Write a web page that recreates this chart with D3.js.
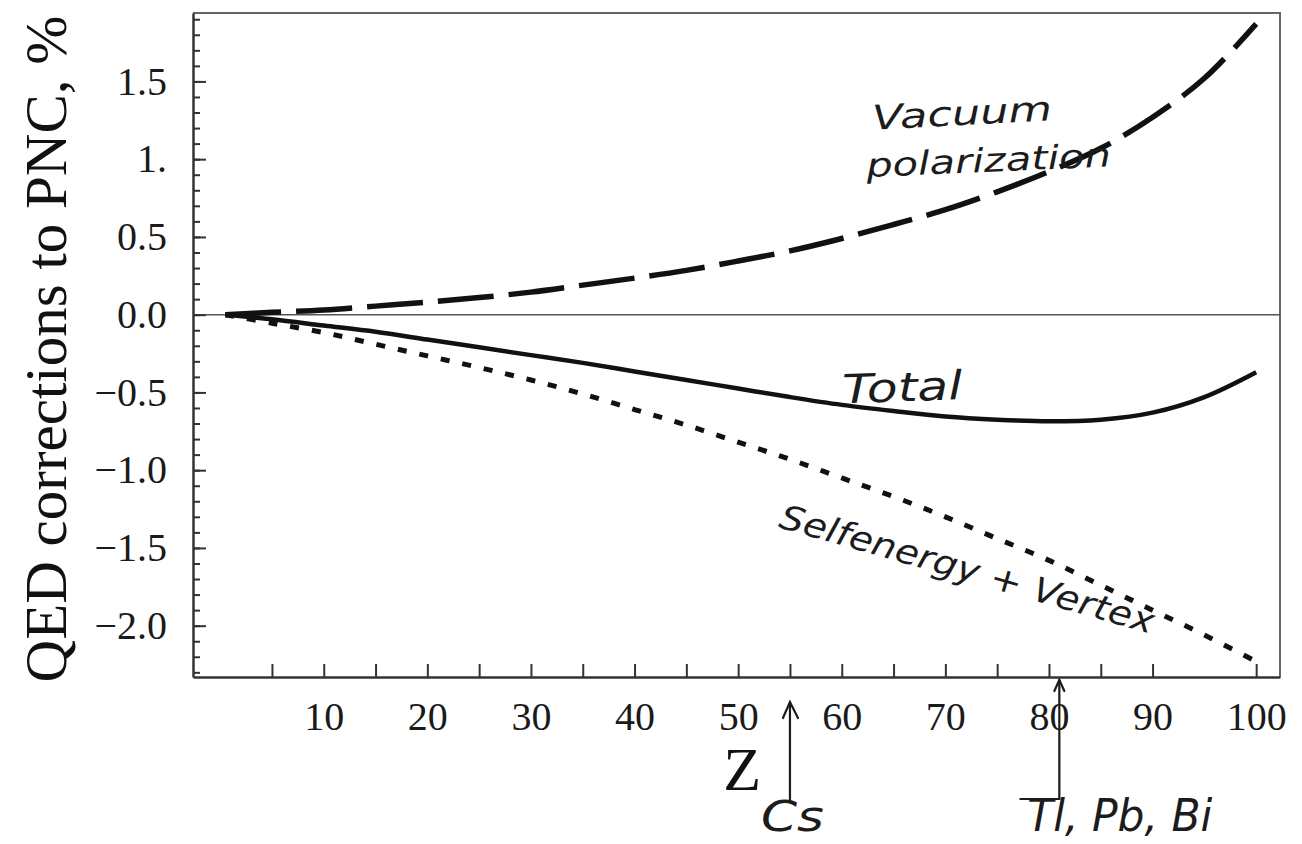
<!DOCTYPE html>
<html>
<head>
<meta charset="utf-8">
<script src="https://cdn.jsdelivr.net/npm/d3@7"></script>
<style>
  body { margin: 0; background: #fff; }
  .axis text { font-family: "Liberation Serif", "Times New Roman", serif; font-size: 40px; fill: #1a1a1a; }
  .axis line { stroke: #333; stroke-width: 2; }
  .axis path { stroke: #333; stroke-width: 2.5; }
  .hand { font-family: "DejaVu Sans", sans-serif; font-style: italic; fill: #1c1c1c; }
</style>
</head>
<body>
<div id="chart"></div>
<script>
// chart values
const zValues    = [0.5, 5, 10, 15, 20, 25, 30, 35, 40, 45, 50, 55, 60, 65, 70, 75, 80, 85, 90, 95, 100];
const vacuumPol  = [0, 0.015, 0.03, 0.055, 0.08, 0.11, 0.145, 0.19, 0.235, 0.285, 0.345, 0.41, 0.49, 0.58, 0.675, 0.79, 0.92, 1.07, 1.27, 1.52, 1.87];
const selfVertex = [0, -0.055, -0.115, -0.19, -0.265, -0.34, -0.42, -0.51, -0.61, -0.71, -0.82, -0.93, -1.05, -1.17, -1.30, -1.44, -1.58, -1.74, -1.90, -2.06, -2.23];
const totalQED   = [0, -0.03, -0.07, -0.11, -0.16, -0.21, -0.26, -0.31, -0.365, -0.42, -0.475, -0.53, -0.58, -0.62, -0.655, -0.675, -0.685, -0.675, -0.63, -0.53, -0.37];

const xTicks = [5, 10, 15, 20, 25, 30, 35, 40, 45, 50, 55, 60, 65, 70, 75, 80, 85, 90, 100];
const yMajor = [-2.0, -1.5, -1.0, -0.5, 0.0, 0.5, 1.0, 1.5];
const yTickLabels = ["\u22122.0", "\u22121.5", "\u22121.0", "\u22120.5", "0.0", "0.5", "1.", "1.5"];
const yMinor = d3.range(-23, 20).map(d => d / 10);

const width = 1302;
const height = 844;
const margin = {top: 13, right: 22, bottom: 167, left: 193};

const svg = d3.select('#chart')
    .append('svg')
    .attr('width', width)
    .attr('height', height);

const x = d3.scaleLinear()
    .domain([-2.62, 102.3])
    .range([margin.left, width - margin.right]);

const y = d3.scaleLinear()
    .domain([-2.33, 1.94])
    .range([height - margin.bottom, margin.top]);

// frame top / right (lighter, no ticks)
svg.append('path')
    .attr('d', `M${x.range()[0]},${y.range()[1]}H${x.range()[1]}V${y.range()[0]}`)
    .attr('fill', 'none')
    .attr('stroke', '#666')
    .attr('stroke-width', 2);

// zero line
svg.append('line')
    .attr('x1', x.range()[0]).attr('x2', x.range()[1])
    .attr('y1', y(0)).attr('y2', y(0))
    .attr('stroke', '#555')
    .attr('stroke-width', 1.5);

// axes with inward ticks
svg.append('g')
    .attr('class', 'axis')
    .attr('transform', `translate(${margin.left},0)`)
    .call(d3.axisLeft(y).tickValues(yMinor).tickSizeInner(-7).tickSizeOuter(0).tickFormat(''))
    .call(g => g.select('.domain').remove());

svg.append('g')
    .attr('class', 'axis')
    .attr('transform', `translate(${margin.left},0)`)
    .call(d3.axisLeft(y).tickValues(yMajor).tickSizeInner(-13).tickSizeOuter(0)
        .tickPadding(26).tickFormat((d, i) => yTickLabels[i]));

svg.append('g')
    .attr('class', 'axis')
    .attr('transform', `translate(0,${height - margin.bottom})`)
    .call(d3.axisBottom(x).tickValues(xTicks).tickSizeInner(-13).tickSizeOuter(0)
        .tickPadding(25).tickFormat(d => d % 10 === 0 ? d : ''));

// axis titles
svg.append('text')
    .text('QED corrections to PNC, %')
    .attr('transform', `translate(66, ${(y.range()[0] + y.range()[1]) / 2 + 4}) rotate(-90)`)
    .attr('text-anchor', 'middle')
    .style('font-family', '"Liberation Serif", serif')
    .style('font-size', '59px')
    .attr('fill', '#111');

svg.append('text')
    .text('Z')
    .attr('x', x(50.4))
    .attr('y', 790)
    .attr('text-anchor', 'middle')
    .style('font-family', '"Liberation Serif", serif')
    .style('font-size', '62px')
    .attr('fill', '#111');

// curves
const line = d3.line()
    .x((d, i) => x(zValues[i]))
    .y(d => y(d))
    .curve(d3.curveCatmullRom.alpha(0.5));

svg.append('path')
    .datum(vacuumPol)
    .attr('d', line)
    .attr('fill', 'none')
    .attr('stroke', '#111')
    .attr('stroke-width', 5.5)
    .attr('stroke-dasharray', '56,15');

svg.append('path')
    .datum(selfVertex)
    .attr('d', line)
    .attr('fill', 'none')
    .attr('stroke', '#111')
    .attr('stroke-width', 5)
    .attr('stroke-dasharray', '9,13');

svg.append('path')
    .datum(totalQED)
    .attr('d', line)
    .attr('fill', 'none')
    .attr('stroke', '#111')
    .attr('stroke-width', 4.5);

// handwritten labels (z, value, rotation, size, length)
const notes = [
    {text: 'Vacuum', z: 63.0, v: 1.19, rot: -3, size: 34, len: 180},
    {text: 'polarization', z: 62.4, v: 0.885, rot: -2.5, size: 33, len: 245},
    {text: 'Total', z: 60.1, v: -0.57, rot: -2, size: 40, len: 120},
    {text: 'Selfenergy + Vertex', z: 53.8, v: -1.365, rot: 16, size: 34, len: 388}
];

notes.forEach(n => {
    svg.append('text')
        .attr('class', 'hand')
        .text(n.text)
        .attr('transform', `translate(${x(n.z)},${y(n.v)}) rotate(${n.rot})`)
        .attr('textLength', n.len)
        .attr('lengthAdjust', 'spacingAndGlyphs')
        .style('font-size', n.size + 'px');
});

// element arrows below the axis
const base = height - margin.bottom;
const pen = svg.append('g')
    .attr('fill', 'none')
    .attr('stroke', '#1c1c1c')
    .attr('stroke-width', 2.2)
    .attr('stroke-linecap', 'round');

const xCs = x(55);
pen.append('path').attr('d', `M${xCs},${base + 124}V${base + 25}`);
pen.append('path').attr('d', `M${xCs - 7},${base + 41}L${xCs},${base + 25}L${xCs + 8},${base + 41}`);

const xTl = x(81);
pen.append('path').attr('d', `M${xTl - 39},${base + 122}H${xTl}V${base + 3}`);
pen.append('path').attr('d', `M${xTl - 5},${base + 14}L${xTl},${base + 3}L${xTl + 5},${base + 14}`);

svg.append('text')
    .attr('class', 'hand')
    .text('Cs')
    .attr('x', xCs - 29)
    .attr('y', base + 154)
    .attr('textLength', 63)
    .attr('lengthAdjust', 'spacingAndGlyphs')
    .style('font-size', '42px');

svg.append('text')
    .attr('class', 'hand')
    .text('Tl, Pb, Bi')
    .attr('x', xTl - 32)
    .attr('y', base + 154)
    .attr('textLength', 185)
    .attr('lengthAdjust', 'spacingAndGlyphs')
    .style('font-size', '44px');
</script>
</body>
</html>
